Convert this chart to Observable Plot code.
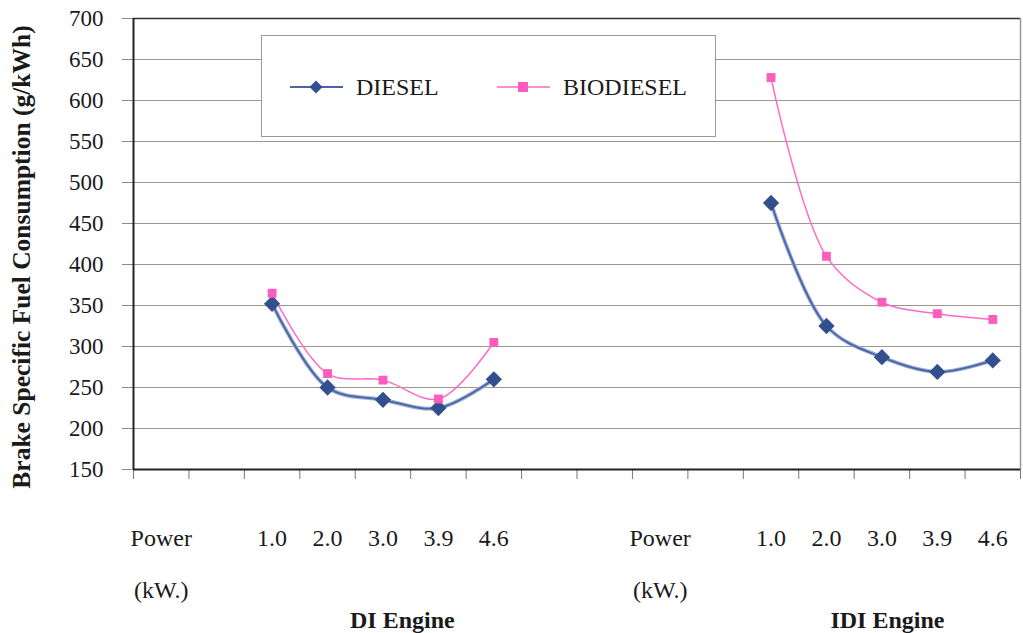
<!DOCTYPE html>
<html>
<head>
<meta charset="utf-8">
<script src="https://cdn.jsdelivr.net/npm/d3@7"></script>
<script src="https://cdn.jsdelivr.net/npm/@observablehq/plot@0.6"></script>
<style>
  html, body { margin: 0; padding: 0; background: #fff; }
  #wrap { position: relative; width: 1023px; height: 633px; font-family: "Liberation Serif", serif; }
  #legend { position: absolute; left: 261px; top: 35px; width: 455px; height: 102px; box-sizing: border-box;
            border: 1px solid #9a9a9a; background: #fff; }
  .item { position: absolute; top: 36px; height: 30px; display: flex; align-items: center; font-size: 24px; color: #1a1a1a; font-family: "Liberation Serif", serif; }
  .item svg { margin-right: 13px; }
</style>
</head>
<body>
<div id="wrap">
  <div id="chart"></div>
  <div id="legend">
    <div class="item" style="left:28px">
      <svg width="53" height="14"><line x1="0" y1="7" x2="53" y2="7" stroke="#4a64a6" stroke-width="2"/><path d="M26,0.5 L32.5,7 L26,13.5 L19.5,7 Z" fill="#33508e"/></svg>DIESEL
    </div>
    <div class="item" style="left:235px">
      <svg width="53" height="14"><line x1="0" y1="7" x2="53" y2="7" stroke="#ff6ac6" stroke-width="1.5"/><rect x="21" y="2" width="10" height="10" fill="#ff5cbf"/></svg>BIODIESEL
    </div>
  </div>
</div>
<script>
// Category slots along the x axis (16 slots, Excel-style)
const categories = ["Power","","1.0","2.0","3.0","3.9","4.6","","","Power","","1.0","2.0","3.0","3.9","4.6"];
const unitLabel = "(kW.)";
const unitSlots = [0, 9];
const engines = ["DI Engine", "IDI Engine"];
const enginePos = [4.85, 13.6];
const seriesNames = ["DIESEL", "BIODIESEL"];
const powers = ["1.0","2.0","3.0","3.9","4.6"];
const diSlots = [2, 3, 4, 5, 6];
const idiSlots = [11, 12, 13, 14, 15];
const diDiesel = [352, 250, 235, 225, 260];
const diBiodiesel = [365, 267, 259, 236, 305];
const idiDiesel = [475, 325, 287, 269, 283];
const idiBiodiesel = [628, 410, 354, 340, 333];
const yTicks = [150, 200, 250, 300, 350, 400, 450, 500, 550, 600, 650, 700];

const rows = [];
powers.forEach((p, i) => {
  rows.push({x: diSlots[i] + 0.5, v: diDiesel[i], series: "DIESEL", engine: "DI"});
  rows.push({x: diSlots[i] + 0.5, v: diBiodiesel[i], series: "BIODIESEL", engine: "DI"});
  rows.push({x: idiSlots[i] + 0.5, v: idiDiesel[i], series: "DIESEL", engine: "IDI"});
  rows.push({x: idiSlots[i] + 0.5, v: idiBiodiesel[i], series: "BIODIESEL", engine: "IDI"});
});
const catRows = categories.map((c, i) => ({x: i + 0.5, text: c})).filter(d => d.text);
const unitRows = unitSlots.map(s => ({x: s + 0.5, text: unitLabel}));
const engineRows = engines.map((e, i) => ({x: enginePos[i], text: e}));

const colors = {DIESEL: "#4a64a6", BIODIESEL: "#ff6ac6"};
const dotColors = {DIESEL: "#33508e", BIODIESEL: "#ff5cbf"};

// rotated-square (Excel-style) diamond symbol
const squareDiamond = {
  draw(context, size) {
    const r = Math.sqrt(size / 2);
    context.moveTo(0, -r); context.lineTo(r, 0); context.lineTo(0, r); context.lineTo(-r, 0); context.closePath();
  }
};

const serif = "Liberation Serif";
const chart = Plot.plot({
  width: 1023,
  height: 633,
  marginTop: 18,
  marginBottom: 164,
  marginLeft: 133,
  marginRight: 3,
  style: {background: "#fff", color: "#1a1a1a"},
  x: {type: "linear", domain: [0, 16]},
  y: {domain: [150, 700]},
  marks: [
    Plot.ruleY(yTicks.slice(1, -1), {stroke: "#9b978c", strokeWidth: 1}),
    Plot.axisY({ticks: yTicks, tickSize: 11, tickPadding: 19, fontSize: 23, fontFamily: serif, stroke: "#8a8a8a",
                label: "Brake Specific Fuel Consumption (g/kWh)", labelAnchor: "center", labelArrow: "none",
                labelOffset: 122}),
    Plot.axisX({ticks: d3.range(0, 17), tickSize: 10, tickFormat: () => "", stroke: "#777", label: null}),
    Plot.ruleY([700], {stroke: "#333", strokeWidth: 1.5}),
    Plot.ruleY([150], {stroke: "#222", strokeWidth: 2}),
    Plot.ruleX([0], {stroke: "#222", strokeWidth: 2}),
    Plot.ruleX([16], {stroke: "#999", strokeWidth: 1.5}),
    Plot.line(rows.filter(d => d.series === "DIESEL"), {x: "x", y: "v", z: "engine", stroke: "#9fb0d6", strokeWidth: 4, curve: "catmull-rom"}),
    Plot.line(rows.filter(d => d.series === "DIESEL"), {x: "x", y: "v", z: "engine", stroke: colors.DIESEL, strokeWidth: 1.8, curve: "catmull-rom"}),
    Plot.line(rows.filter(d => d.series === "BIODIESEL"), {x: "x", y: "v", z: "engine", stroke: colors.BIODIESEL, strokeWidth: 1.5, curve: "catmull-rom"}),
    Plot.dot(rows.filter(d => d.series === "DIESEL"), {x: "x", y: "v", symbol: squareDiamond, r: 6.5, fill: dotColors.DIESEL}),
    Plot.dot(rows.filter(d => d.series === "BIODIESEL"), {x: "x", y: "v", symbol: "square", r: 5, fill: dotColors.BIODIESEL}),
    Plot.text(catRows, {x: "x", text: "text", frameAnchor: "bottom", lineAnchor: "bottom", dy: 76, fontSize: 24, fontFamily: serif, fill: "#1a1a1a"}),
    Plot.text(unitRows, {x: "x", text: "text", frameAnchor: "bottom", lineAnchor: "bottom", dy: 128, fontSize: 24, fontFamily: serif, fill: "#1a1a1a"}),
    Plot.text(engineRows, {x: "x", text: "text", frameAnchor: "bottom", lineAnchor: "bottom", dy: 158, fontSize: 24, fontFamily: serif, fontWeight: "bold", fill: "#1a1a1a"})
  ]
});
document.getElementById("chart").appendChild(chart);
chart.querySelectorAll("text").forEach(t => { t.style.fontFamily = "'Liberation Serif', serif"; });
chart.querySelectorAll("g[aria-label='y-axis label'] text").forEach(t => {
  t.style.fontWeight = "bold"; t.style.fontSize = "25.5px";
  const tr = t.getAttribute("transform") || "";
  t.setAttribute("transform", tr + " translate(-13,0)");
});
</script>
</body>
</html>
